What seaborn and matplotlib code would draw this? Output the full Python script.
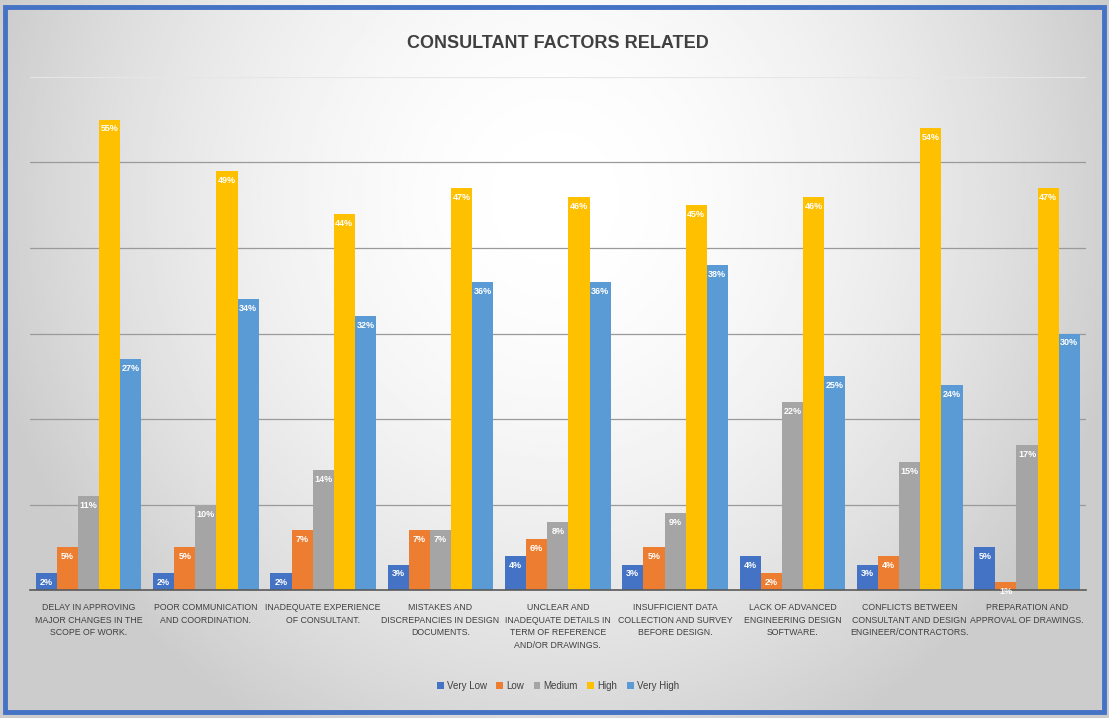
import numpy as np
import pandas as pd
import matplotlib.pyplot as plt
import seaborn as sns
from matplotlib.patches import Rectangle

sns.set_theme(style="white")
plt.rcParams["font.family"] = ["Liberation Sans", "DejaVu Sans"]

factors = [
    "DELAY IN APPROVING\nMAJOR CHANGES IN THE\nSCOPE OF WORK.",
    "POOR COMMUNICATION\nAND COORDINATION.",
    "INADEQUATE EXPERIENCE\nOF CONSULTANT.",
    "MISTAKES AND\nDISCREPANCIES IN DESIGN\nDOCUMENTS.",
    "UNCLEAR AND\nINADEQUATE DETAILS IN\nTERM OF REFERENCE\nAND/OR DRAWINGS.",
    "INSUFFICIENT DATA\nCOLLECTION AND SURVEY\nBEFORE DESIGN.",
    "LACK OF ADVANCED\nENGINEERING DESIGN\nSOFTWARE.",
    "CONFLICTS BETWEEN\nCONSULTANT AND DESIGN\nENGINEER/CONTRACTORS.",
    "PREPARATION AND\nAPPROVAL OF DRAWINGS.",
]
levels = ["Very Low", "Low", "Medium", "High", "Very High"]

very_low = [2, 2, 2, 3, 4, 3, 4, 3, 5]
low = [5, 5, 7, 7, 6, 5, 2, 4, 1]
medium = [11, 10, 14, 7, 8, 9, 22, 15, 17]
high = [55, 49, 44, 47, 46, 45, 46, 54, 47]
very_high = [27, 34, 32, 36, 36, 38, 25, 24, 30]

colors = ["#4472C4", "#ED7D31", "#A5A5A5", "#FFC000", "#5B9BD5"]

df = pd.DataFrame({
    "factor": factors,
    "Very Low": very_low,
    "Low": low,
    "Medium": medium,
    "High": high,
    "Very High": very_high,
}).melt(id_vars="factor", var_name="level", value_name="pct")

fig = plt.figure(figsize=(11.09, 7.18), dpi=100)

# gray gradient background
bg = fig.add_axes([0, 0, 1, 1], zorder=-10)
xx, yy = np.meshgrid(np.linspace(-1, 1, 400), np.linspace(-1, 1, 300))
shade = 1 - 0.2 * np.clip(np.sqrt((xx / 1.05) ** 2 + ((yy + 0.45) / 1.7) ** 2), 0, 1) ** 1.8
bg.imshow(shade, cmap="gray", vmin=0, vmax=1, aspect="auto", extent=[0, 1, 0, 1])
bg.axis("off")
fig.patches.append(Rectangle((0.0045, 0.0085), 0.991, 0.982, transform=fig.transFigure,
                             fill=False, edgecolor="#4472C4", linewidth=3.5))

ax = fig.add_axes([0.027, 0.178, 0.952, 0.715])
ax.patch.set_alpha(0)
sns.barplot(data=df, x="factor", y="pct", hue="level", hue_order=levels,
            palette=colors, width=0.9, errorbar=None, saturation=1,
            linewidth=0, ax=ax)

for cont, lvl in zip(ax.containers, levels):
    vals = df[df["level"] == lvl]["pct"].tolist()
    ax.bar_label(cont, labels=[f"{v}%" for v in vals], label_type="edge",
                 padding=-10, color="white", fontsize=6.5, fontweight="bold")

ax.set_ylim(0, 60)
ax.set_yticks([10, 20, 30, 40, 50])
ax.set_yticklabels([])
ax.tick_params(axis="y", length=0)
ax.yaxis.grid(True, color="#9A9A9A", linewidth=0.9)
ax.axhline(60, color="#E6E6E6", linewidth=0.8, zorder=0)
ax.set_axisbelow(True)
for s in ["top", "right", "left"]:
    ax.spines[s].set_visible(False)
ax.spines["bottom"].set_color("#595959")
ax.spines["bottom"].set_linewidth(1.2)
ax.set_xlabel("")
ax.set_ylabel("")
ax.tick_params(axis="x", length=0, pad=9, labelsize=6.3, labelcolor="#404040")
for t in ax.get_xticklabels():
    t.set_linespacing(1.55)
ax.set_xlim(-0.5, len(factors) - 0.5)

ax.legend(loc="upper center", bbox_to_anchor=(0.5, -0.16), ncol=5, frameon=False,
          fontsize=7, handlelength=0.7, handleheight=0.7, columnspacing=1.0,
          handletextpad=0.3, labelcolor="#404040")

fig.text(0.503, 0.94, "CONSULTANT FACTORS RELATED", ha="center", va="center",
         fontsize=13, fontweight="bold", color="#404040")

fig.savefig("out.png", dpi=100)
